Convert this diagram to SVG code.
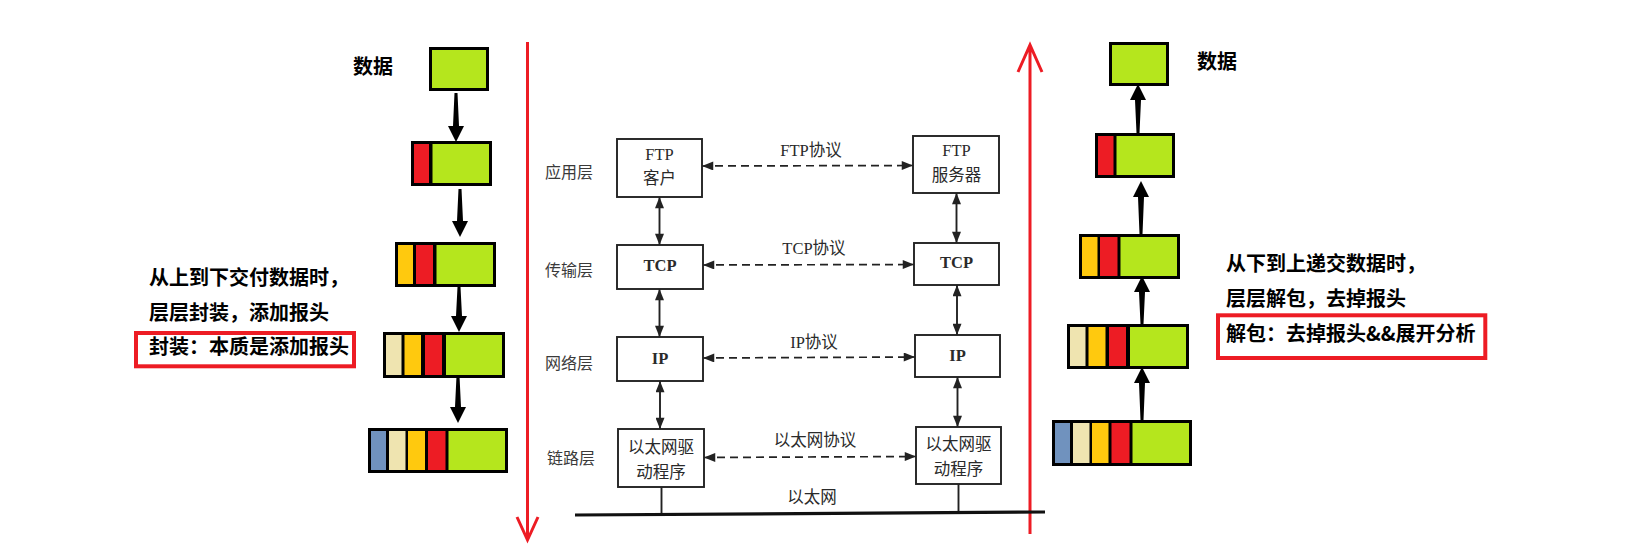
<svg xmlns="http://www.w3.org/2000/svg" width="1640" height="559" viewBox="0 0 1640 559">
<style>
.bg{fill:#000}
.g{fill:#b5e61d}.r{fill:#ed1c24}.y{fill:#ffc90e}.be{fill:#efe4b0}.bl{fill:#7092be}
.redln{stroke:#ed1c24;stroke-width:3;fill:none}
.note{font-family:"Noto Sans CJK SC","Liberation Sans",sans-serif;font-weight:bold;font-size:20px;fill:#000}
.redbox{fill:none;stroke:#ed1c24;stroke-width:4}
.gbox{fill:#fff;stroke:#222;stroke-width:1.9}
.gt{font-family:"Liberation Serif","Noto Sans CJK SC",serif;font-size:16.5px;fill:#2a2a2a;text-anchor:middle}
.gtb{font-weight:bold}
.lay{font-family:"Noto Sans CJK SC",serif;font-size:16px;fill:#3a3a3a}
.vline{stroke:#222;stroke-width:1.9;fill:none}
.dash{stroke:#222;stroke-width:1.7;fill:none;stroke-dasharray:8 5}
.blk{fill:#000}
</style>
<defs>
<marker id="ah" viewBox="0 0 10 8" refX="10" refY="4" markerWidth="12" markerHeight="9" markerUnits="userSpaceOnUse" orient="auto-start-reverse"><path d="M0,0 L10,4 L0,8 Z" fill="#222"/></marker>
</defs>
<rect width="1640" height="559" fill="#fff"/>

<!-- left encapsulation stack -->
<g id="left-data-label"><text class="note" x="353" y="74">数据</text></g>
<g id="L1"><rect class="bg" x="429" y="47" width="60" height="44"/><rect class="g" x="432" y="50" width="54" height="38"/></g>
<g id="L2"><rect class="bg" x="411" y="141" width="81" height="45"/><rect class="r" x="414" y="144" width="15" height="39"/><rect class="g" x="432.5" y="144" width="56.5" height="39"/></g>
<g id="L3"><rect class="bg" x="395" y="242" width="101" height="45"/><rect class="y" x="398" y="245" width="15" height="39"/><rect class="r" x="416" y="245" width="17" height="39"/><rect class="g" x="436.5" y="245" width="56.5" height="39"/></g>
<g id="L4"><rect class="bg" x="383" y="332" width="122" height="46"/><rect class="be" x="386" y="335" width="15.5" height="40"/><rect class="y" x="404.5" y="335" width="16.5" height="40"/><rect class="r" x="425" y="335" width="17" height="40"/><rect class="g" x="446" y="335" width="56" height="40"/></g>
<g id="L5"><rect class="bg" x="368" y="428" width="140" height="45"/><rect class="bl" x="371" y="431" width="15" height="39"/><rect class="be" x="389" y="431" width="16.5" height="39"/><rect class="y" x="408" y="431" width="17" height="39"/><rect class="r" x="428" y="431" width="17.5" height="39"/><rect class="g" x="448.5" y="431" width="56.5" height="39"/></g>

<g id="left-note">
<text class="note" x="149" y="285">从上到下交付数据时，</text>
<text class="note" x="149" y="320">层层封装，添加报头</text>
<rect class="redbox" x="136" y="333" width="218" height="33.3"/>
<text class="note" x="149" y="354">封装：本质是添加报头</text>
</g>

<!-- right decapsulation stack -->
<g id="right-data-label"><text class="note" x="1197" y="69">数据</text></g>
<g id="R1"><rect class="bg" x="1109" y="42" width="60" height="44"/><rect class="g" x="1112" y="45" width="54" height="38"/></g>
<g id="R2"><rect class="bg" x="1095" y="133" width="80" height="45"/><rect class="r" x="1098" y="136" width="15.5" height="39"/><rect class="g" x="1116.5" y="136" width="55.5" height="39"/></g>
<g id="R3"><rect class="bg" x="1079" y="234" width="101" height="45"/><rect class="y" x="1082" y="237" width="15.5" height="39"/><rect class="r" x="1100" y="237" width="17.5" height="39"/><rect class="g" x="1120.5" y="237" width="56.5" height="39"/></g>
<g id="R4"><rect class="bg" x="1067" y="324" width="122" height="45"/><rect class="be" x="1070" y="327" width="15.5" height="39"/><rect class="y" x="1088.5" y="327" width="17" height="39"/><rect class="r" x="1109" y="327" width="17" height="39"/><rect class="g" x="1130" y="327" width="56" height="39"/></g>
<g id="R5"><rect class="bg" x="1052" y="420" width="140" height="46"/><rect class="bl" x="1055" y="423" width="15" height="40"/><rect class="be" x="1073" y="423" width="16.5" height="40"/><rect class="y" x="1092" y="423" width="16.5" height="40"/><rect class="r" x="1111.5" y="423" width="18" height="40"/><rect class="g" x="1132.5" y="423" width="56.5" height="40"/></g>

<g id="right-note">
<text class="note" x="1226" y="270.5">从下到上递交数据时，</text>
<text class="note" x="1226" y="305.5">层层解包，去掉报头</text>
<rect class="redbox" x="1218" y="315.3" width="267.3" height="42.7"/>
<text class="note" x="1226" y="340.5">解包：去掉报头&amp;&amp;展开分析</text>
</g>

<!-- layer labels -->
<g id="layer-labels">
<text class="lay" x="545" y="178">应用层</text>
<text class="lay" x="545" y="276">传输层</text>
<text class="lay" x="545" y="369">网络层</text>
<text class="lay" x="547" y="464">链路层</text>
</g>

<!-- protocol stack boxes -->
<g id="ftp-client"><rect class="gbox" x="617" y="139" width="85" height="58"/><text class="gt" x="659.5" y="159.5">FTP</text><text class="gt" x="659.5" y="184">客户</text></g>
<g id="tcp-left"><rect class="gbox" x="617" y="245" width="86" height="44"/><text class="gt gtb" x="660" y="271">TCP</text></g>
<g id="ip-left"><rect class="gbox" x="617" y="337" width="86" height="44"/><text class="gt gtb" x="660" y="364">IP</text></g>
<g id="eth-left"><rect class="gbox" x="618" y="429" width="86" height="58"/><text class="gt" x="661" y="453">以太网驱</text><text class="gt" x="661" y="478">动程序</text></g>

<g id="ftp-server"><rect class="gbox" x="913" y="136" width="86" height="57"/><text class="gt" x="956.5" y="155.5">FTP</text><text class="gt" x="956.5" y="181">服务器</text></g>
<g id="tcp-right"><rect class="gbox" x="914" y="243" width="85" height="42"/><text class="gt gtb" x="956.5" y="268">TCP</text></g>
<g id="ip-right"><rect class="gbox" x="915" y="335" width="85" height="42"/><text class="gt gtb" x="957.5" y="361">IP</text></g>
<g id="eth-right"><rect class="gbox" x="916" y="427" width="85" height="57"/><text class="gt" x="958.5" y="449.5">以太网驱</text><text class="gt" x="958.5" y="474.5">动程序</text></g>

<g id="protocol-labels">
<text class="gt" x="811" y="155.5">FTP协议</text>
<text class="gt" x="814" y="254">TCP协议</text>
<text class="gt" x="814" y="347.5">IP协议</text>
<text class="gt" x="815" y="446">以太网协议</text>
<text class="gt" x="812" y="503">以太网</text>
</g>

<g id="connectors">
<!-- red direction lines -->
<path class="redln" d="M527.5,42 V539 M517,517 L527.5,540 L538,517"/>
<path class="redln" d="M1030,534 V46 M1018,72 L1030,45 L1042,72"/>
<!-- stack arrows -->
<polygon class="blk" points="454.5,93 457.5,93 459,126 464,126 456,142 448,126 453,126"/>
<polygon class="blk" points="458.5,189 461.5,189 463,221 468,221 460,237 452,221 457,221"/>
<polygon class="blk" points="457.5,287 460.5,287 462,316 467,316 459,332 451,316 456,316"/>
<polygon class="blk" points="456.5,376 459.5,376 461,407 466,407 458,423 450,407 455,407"/>
<polygon class="blk" points="1138,84 1146,100 1141,100 1139.5,133 1136.5,133 1135,100 1130,100"/>
<polygon class="blk" points="1141,181 1149,197 1144,197 1142.5,234 1139.5,234 1138,197 1133,197"/>
<polygon class="blk" points="1142,276 1150,292 1145,292 1143.5,324 1140.5,324 1139,292 1134,292"/>
<polygon class="blk" points="1142,367 1150,383 1145,383 1143.5,420 1140.5,420 1139,383 1134,383"/>
<!-- vertical double arrows -->
<line class="vline" x1="659.5" y1="197" x2="659.5" y2="245" marker-start="url(#ah)" marker-end="url(#ah)"/>
<line class="vline" x1="659.5" y1="289" x2="659.5" y2="337" marker-start="url(#ah)" marker-end="url(#ah)"/>
<line class="vline" x1="660" y1="381" x2="660" y2="429" marker-start="url(#ah)" marker-end="url(#ah)"/>
<line class="vline" x1="956.5" y1="193" x2="956.5" y2="243" marker-start="url(#ah)" marker-end="url(#ah)"/>
<line class="vline" x1="957" y1="285" x2="957" y2="335" marker-start="url(#ah)" marker-end="url(#ah)"/>
<line class="vline" x1="957.5" y1="377" x2="957.5" y2="427" marker-start="url(#ah)" marker-end="url(#ah)"/>
<!-- dashed peer protocol arrows -->
<line class="dash" x1="702" y1="166" x2="913" y2="165.5" marker-start="url(#ah)" marker-end="url(#ah)"/>
<line class="dash" x1="703" y1="265" x2="914" y2="264.5" marker-start="url(#ah)" marker-end="url(#ah)"/>
<line class="dash" x1="703" y1="358" x2="915" y2="357" marker-start="url(#ah)" marker-end="url(#ah)"/>
<line class="dash" x1="704" y1="457.5" x2="916" y2="456.5" marker-start="url(#ah)" marker-end="url(#ah)"/>
<!-- ethernet bus -->
<line class="vline" x1="661.5" y1="487" x2="661.5" y2="515"/>
<line class="vline" x1="958.5" y1="484" x2="958.5" y2="512"/>
<line x1="575" y1="515" x2="1045" y2="512" stroke="#111" stroke-width="3.2"/>
</g>
</svg>
